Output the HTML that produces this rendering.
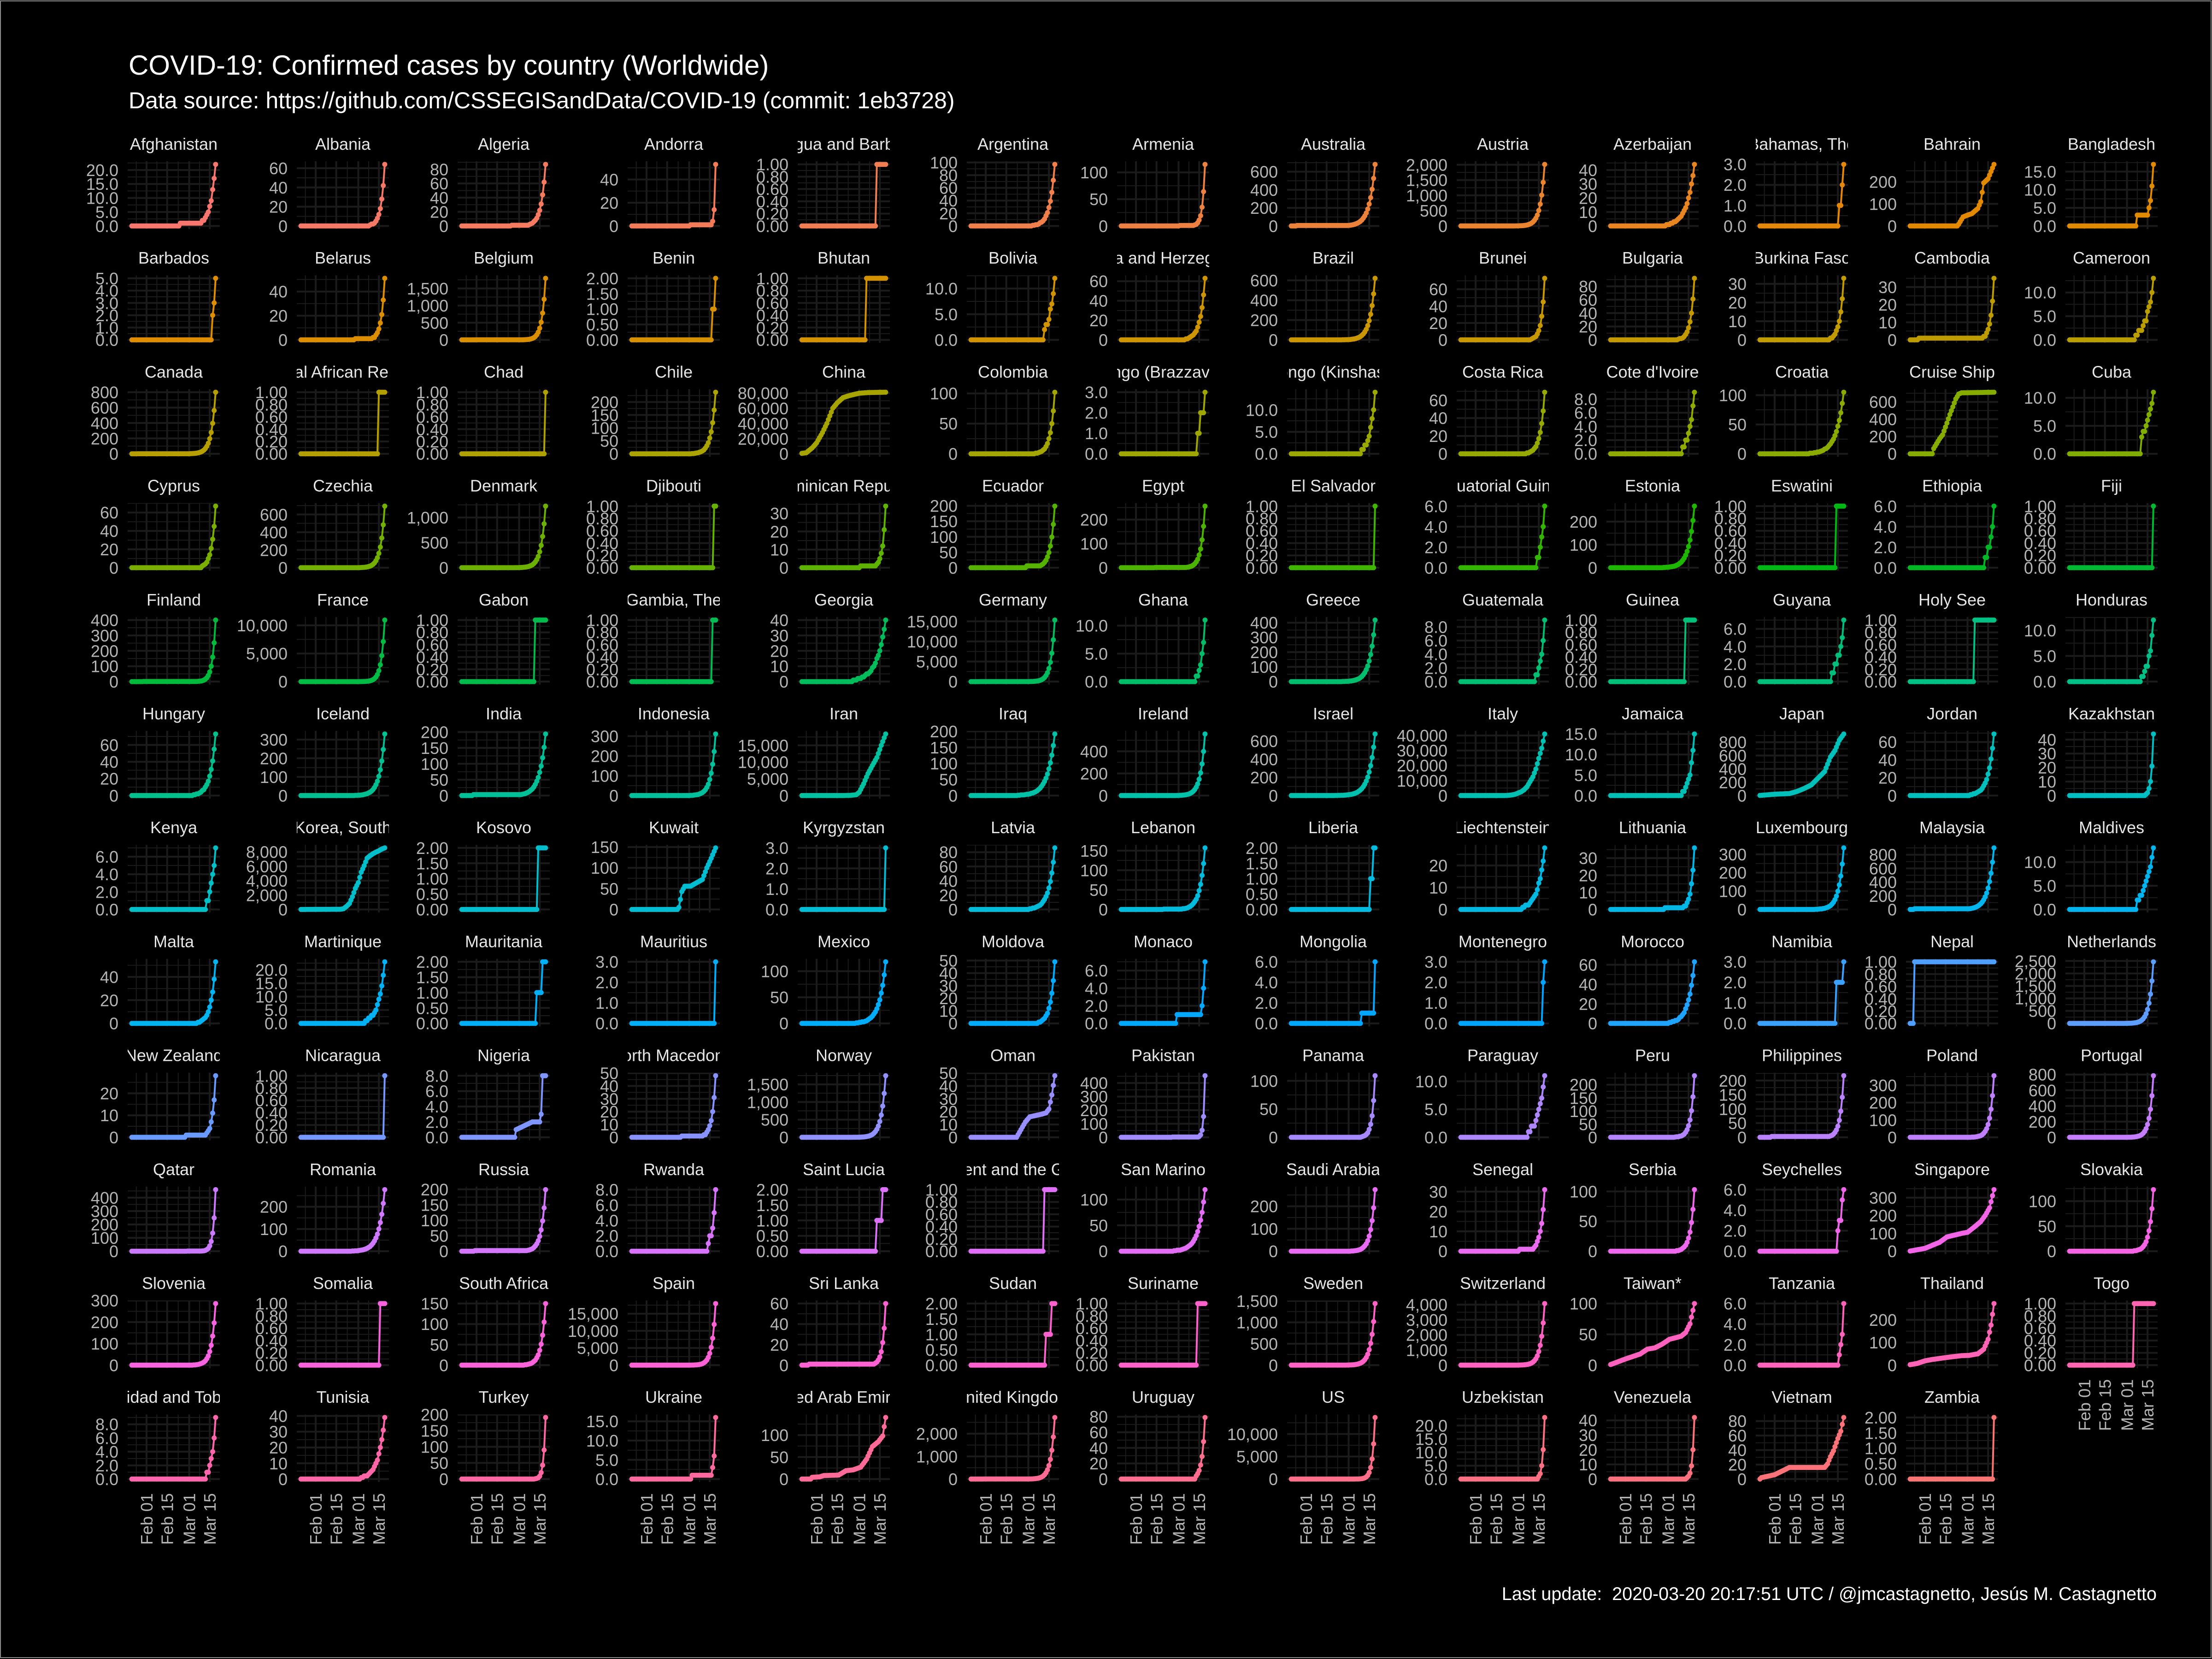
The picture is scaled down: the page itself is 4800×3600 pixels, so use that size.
<!DOCTYPE html>
<html><head><meta charset="utf-8"><style>
html,body{margin:0;padding:0;background:#000;}
svg{display:block;}
text{font-family:"Liberation Sans",Arial,sans-serif;}
</style></head><body>
<svg id="cv" xmlns="http://www.w3.org/2000/svg" width="4800" height="3600" viewBox="0 0 4800 3600">
<rect x="0" y="0" width="4800" height="3600" fill="#000"/>
<rect x="1" y="2" width="4797" height="3595" fill="none" stroke="#8c8c8c" stroke-width="2"/>
<text x="279" y="162" font-size="60" fill="#ffffff">COVID-19: Confirmed cases by country (Worldwide)</text>
<text x="279" y="235" font-size="50" fill="#ffffff">Data source: https://github.com/CSSEGISandData/COVID-19 (commit: 1eb3728)</text>
<text x="4680" y="3472" font-size="39.5" fill="#ffffff" text-anchor="end">Last update:&#160;&#160;2020-03-20 20:17:51 UTC / @jmcastagnetto, Jesús M. Castagnetto</text>
<g id="panels"></g>
</svg>
<script>
const T1="0.00;0.20;0.40;0.60;0.80;1.00",T2="0.00;0.50;1.00;1.50;2.00",T3="0.0;1.0;2.0;3.0",T6="0.0;2.0;4.0;6.0",T8="0.0;2.0;4.0;6.0;8.0",T10="0.0;5.0;10.0";
const D=[
["Afghanistan","0.0;5.0;10.0;15.0;20.0",22,33,1,46],
["Albania","0;20;40;60",64,47],
["Algeria","0;20;40;60;80",87,34,1,44],
["Andorra","0;20;40",53,40,1,54],
["Antigua and Barbuda",T1,1,51],
["Argentina","0;20;40;60;80;100",97,42],
["Armenia","0;50;100",115,40,1,49],
["Australia","0;200;400;600",681,4,5,38],
["Austria","0;500;1,000;1,500;2,000",2013,35],
["Azerbaijan","0;10;20;30;40",44,38],
["Bahamas, The",T3,3,54],
["Bahrain","0;100;200",[[0,0],[32,0],[33,8],[36,41],[39,49],[42,56],[46,79],[48,110],[50,195],[53,214],[57,279]]],
["Bangladesh","0.0;5.0;10.0;15.0",17,46,3,53],
["Barbados","0.0;1.0;2.0;3.0;4.0;5.0",5,55,2],
["Belarus","0;20;40",51,37,1,48],
["Belgium","0;500;1,000;1,500",1795,10,1,39],
["Benin",T2,2,55],
["Bhutan",T1,1,44],
["Bolivia",T10,12,50,2],
["Bosnia and Herzegovina","0;20;40;60",63,44],
["Brazil","0;200;400;600",621,35],
["Brunei","0;20;40;60",73,48],
["Bulgaria","0;20;40;60;80",92,46],
["Burkina Faso","0;10;20;30",33,48],
["Cambodia","0;10;20;30",35,6,1,49],
["Cameroon",T10,13,45],
["Canada","0;200;400;600;800",800,4,1,38],
["Central African Republic",T1,1,53],
["Chad",T1,1,57],
["Chile","0;50;100;150;200",238,41],
["China","0;20,000;40,000;60,000;80,000",[[0,548],[3,1400],[7,7700],[10,14400],[14,28000],[17,40000],[21,60000],[24,67000],[28,74000],[31,76000],[35,78000],[39,79800],[45,80700],[57,81156]]],
["Colombia","0;50;100",102,44],
["Congo (Brazzaville)",T3,3,52,1],
["Congo (Kinshasa)",T10,14,48],
["Costa Rica","0;20;40;60",69,45],
["Cote d'Ivoire",T8,9,49],
["Croatia","0;50;100",105,34],
["Cruise Ship","0;200;400;600",[[0,0],[15,0],[16,61],[20,174],[22,218],[25,355],[27,454],[29,542],[31,634],[33,691],[35,705],[57,712]]],
["Cuba",T10,11,49,3],
["Cyprus","0;20;40;60",67,48,2],
["Czechia","0;200;400;600",694,39],
["Denmark","0;500;1,000",1225,36],
["Djibouti",T1,1,56],
["Dominican Republic","0;10;20;30",34,40,1,50],
["Ecuador","0;50;100;150;200",199,38,6,47],
["Egypt","0;100;200",256,23,1,43],
["El Salvador",T1,1,57],
["Equatorial Guinea",T6,6,52],
["Estonia","0;100;200",267,36],
["Eswatini",T1,1,52],
["Ethiopia",T6,6,51],
["Fiji",T1,1,57],
["Finland","0;100;200;300;400",400,8,1,44],
["France","0;5,000;10,000",10947,2,3,38],
["Gabon",T1,1,50],
["Gambia, The",T1,1,55],
["Georgia","0;10;20;30;40",40,35],
["Germany","0;5,000;10,000;15,000",15320,6,10,38],
["Ghana",T10,11,51],
["Greece","0;100;200;300;400",418,35],
["Guatemala",T8,9,51],
["Guinea",T1,1,51],
["Guyana",T6,7,49],
["Holy See",T1,1,44],
["Honduras",T10,12,49],
["Hungary","0;20;40;60",73,42],
["Iceland","0;100;200;300",330,37],
["India","0;50;100;150;200",194,8,3,40],
["Indonesia","0;100;200;300",311,40],
["Iran","0;5,000;10,000;15,000",[[0,0],[27,0],[28,2],[33,61],[37,245],[39,978],[42,3513],[45,6566],[48,9000],[51,11364],[54,14991],[57,18407]]],
["Iraq","0;50;100;150;200",192,32],
["Ireland","0;200;400",557,38],
["Israel","0;200;400;600",677,30],
["Italy","0;10,000;20,000;30,000;40,000",[[0,0],[8,0],[9,3],[29,3],[31,76],[33,229],[35,453],[37,888],[39,1694],[41,2502],[43,3858],[45,5883],[47,9172],[49,12462],[51,17660],[53,24747],[55,31506],[57,41035]]],
["Jamaica","0.0;5.0;10.0;15.0",15,49],
["Japan","0;200;400;600;800",[[0,2],[10,20],[20,30],[25,60],[30,105],[35,160],[39,250],[44,360],[48,580],[51,675],[54,830],[57,924]]],
["Jordan","0;20;40;60",69,41],
["Kazakhstan","0;10;20;30;40",44,52],
["Kenya",T6,7,51],
["Korea, South","0;2,000;4,000;6,000;8,000",[[0,1],[27,31],[29,104],[31,433],[33,833],[35,1766],[37,2931],[39,3736],[41,5186],[43,6088],[45,7134],[47,7478],[49,7755],[51,7979],[53,8162],[55,8413],[57,8565]]],
["Kosovo",T2,2,52,2],
["Kuwait","0;50;100;150",[[0,0],[31,0],[32,5],[34,43],[36,56],[40,56],[44,64],[48,72],[51,100],[54,123],[57,148]]],
["Kyrgyzstan",T3,3,57,3],
["Latvia","0;20;40;60;80",86,40],
["Lebanon","0;50;100;150",157,29,1,40],
["Liberia",T2,2,54,1],
["Liechtenstein","0;10;20",28,42],
["Lithuania","0;10;20;30",36,37,1,49],
["Luxembourg","0;100;200;300",335,38],
["Malaysia","0;200;400;600;800",900,3,10,40],
["Maldives",T10,13,46,2],
["Malta","0;20;40",53,45],
["Martinique","0.0;5.0;10.0;15.0;20.0",23,44],
["Mauritania",T2,2,51,1],
["Mauritius",T3,3,57,3],
["Mexico","0;50;100",118,37],
["Moldova","0;10;20;30;40;50",49,46],
["Monaco",T6,7,38,1,54],
["Mongolia",T6,6,48,1,56],
["Montenegro",T3,3,56,2],
["Morocco","0;20;40;60",63,40],
["Namibia",T3,3,52,2,55],
["Nepal",T1,1,3],
["Netherlands","0;500;1,000;1,500;2,000;2,500",2467,36],
["New Zealand","0;10;20",28,37,1,50],
["Nicaragua",T1,1,57],
["Nigeria",T8,[[0,0],[36,0],[37,1],[48,2],[50,2],[51,2],[52,2],[53,2],[54,3],[55,8],[57,8]]],
["North Macedonia","0;10;20;30;40;50",48,34,1,48],
["Norway","0;500;1,000;1,500",1746,35],
["Oman","0;10;20;30;40;50",[[0,0],[31,0],[32,2],[34,6],[37,12],[40,16],[48,18],[51,19],[53,22],[55,33],[57,48]]],
["Pakistan","0;100;200;300;400",454,35,2,52],
["Panama","0;50;100",109,48],
["Paraguay",T10,11,46],
["Peru","0;50;100;150;200",234,44],
["Philippines","0;50;100;150;200",217,8,3,47],
["Poland","0;100;200;300",355,42],
["Portugal","0;200;400;600;800",785,40],
["Qatar","0;100;200;300;400",460,38,1,47],
["Romania","0;100;200",277,35],
["Russia","0;50;100;150;200",199,9,2,44],
["Rwanda",T8,8,52],
["Saint Lucia",T2,2,51,1],
["Saint Vincent and the Grenadines",T1,1,50],
["San Marino","0;50;100",119,36],
["Saudi Arabia","0;100;200",274,41],
["Senegal","0;10;20;30",31,40,1,48],
["Serbia","0;50;100",103,45],
["Seychelles",T6,6,53,2],
["Singapore","0;100;200;300",[[0,1],[10,16],[20,50],[25,80],[30,90],[35,100],[39,106],[44,138],[48,166],[51,200],[54,243],[57,345]]],
["Slovakia","0;50;100",123,44],
["Slovenia","0;100;200;300",286,42],
["Somalia",T1,1,54],
["South Africa","0;50;100;150",150,43],
["Spain","0;5,000;10,000;15,000",17963,10,2,35],
["Sri Lanka","0;20;40;60",60,5,1,49],
["Sudan",T2,2,51,1],
["Suriname",T1,1,52],
["Sweden","0;500;1,000;1,500",1439,9,1,36],
["Switzerland","0;1,000;2,000;3,000;4,000",4075,35],
["Taiwan*","0;50;100",[[0,1],[10,10],[20,18],[25,26],[30,28],[35,34],[40,42],[45,45],[48,47],[51,53],[54,67],[57,100]]],
["Tanzania",T6,6,54,1],
["Thailand","0;100;200",[[0,2],[5,8],[10,19],[15,25],[25,34],[35,42],[40,43],[46,50],[50,70],[53,114],[55,177],[57,272]]],
["Togo",T1,1,44],
["Trinidad and Tobago",T8,9,51],
["Tunisia","0;10;20;30;40",39,41],
["Turkey","0;50;100;150;200",191,50],
["Ukraine","0.0;5.0;10.0;15.0",16,41,1,54],
["United Arab Emirates","0;50;100",[[0,0],[6,0],[7,4],[12,5],[15,8],[25,9],[30,19],[35,21],[40,27],[44,45],[48,74],[52,85],[55,98],[57,140]]],
["United Kingdom","0;1,000;2,000",2716,9,2,38],
["Uruguay","0;20;40;60;80",79,51,4],
["US","0;5,000;10,000",13677,0,1,40],
["Uzbekistan","0.0;5.0;10.0;15.0;20.0",23,53],
["Venezuela","0;10;20;30;40",42,52],
["Vietnam","0;20;40;60;80",[[0,0],[1,2],[10,6],[20,16],[44,16],[46,21],[48,31],[50,39],[53,56],[55,66],[57,85]]],
["Zambia",T2,2,57,2]
];
function hcl(h){
  const L=65,C=100,hr=h*Math.PI/180;
  const U=C*Math.cos(hr),V=C*Math.sin(hr);
  const Xn=95.047,Yn=100,Zn=108.883;
  const un=4*Xn/(Xn+15*Yn+3*Zn),vn=9*Yn/(Xn+15*Yn+3*Zn);
  const Y=Yn*Math.pow((L+16)/116,3);
  const u=U/(13*L)+un,v=V/(13*L)+vn;
  const X=9*Y*u/(4*v),Z=-X/3-5*Y+3*Y/v;
  const x=X/100,y=Y/100,z=Z/100;
  let r=3.2404542*x-1.5371385*y-0.4985314*z;
  let g=-0.9692660*x+1.8760108*y+0.0415560*z;
  let b=0.0556434*x-0.2040259*y+1.0572252*z;
  const gm=c=>{c=c<=0.0031308?12.92*c:1.055*Math.pow(c,1/2.4)-0.055;return Math.round(Math.max(0,Math.min(1,c))*255);};
  return "rgb("+gm(r)+","+gm(g)+","+gm(b)+")";
}
function series(sp){
  const out=[];
  if(Array.isArray(sp[2])){
    const k=sp[2];
    for(let d=0;d<58;d++){
      let j=0;while(j<k.length-1&&k[j+1][0]<d)j++;
      let a=k[j],b=k[Math.min(j+1,k.length-1)];
      let v;
      if(d<=a[0])v=a[1];else if(b[0]===a[0])v=b[1];else v=a[1]+(b[1]-a[1])*(d-a[0])/(b[0]-a[0]);
      out.push(v);
    }
    return out;
  }
  const M=sp[2],s=sp[3],v0=sp[4]||1,s2=(sp[5]!==undefined)?sp[5]:s;
  const r=(M>v0&&57>s2)?Math.log(M/v0)/(57-s2):0;
  for(let d=0;d<58;d++){
    let v;
    if(d<s)v=0;else if(d<s2)v=v0;else v=Math.round(v0*Math.exp(r*(d-s2)));
    if(d===57)v=M;
    out.push(v);
  }
  return out;
}
const CX=[377,744,1093,1462,1831,2198,2524,2893,3261,3586,3910,4236,4582];
const W=200,H=147,GRID="#1b1b1b";
const xMaj=[41,85.7,133.5,178.2],xMin=[18.7,63.4,109.6,155.9];
const xLab=["Feb 01","Feb 15","Mar 01","Mar 15"];
let s="<defs>";
for(let i=0;i<D.length;i++){
  const col=i%13,row=Math.floor(i/13),L=CX[col]-W/2,T=350+row*247.2;
  s+=`<clipPath id="p${i}"><rect x="${L}" y="${T}" width="${W}" height="${H}"/></clipPath>`;
  s+=`<clipPath id="t${i}"><rect x="${L}" y="${T-80}" width="${W}" height="80"/></clipPath>`;
}
s+="</defs>";
for(let i=0;i<D.length;i++){
  const sp=D[i],col=i%13,row=Math.floor(i/13),L=CX[col]-W/2,T=350+row*247.2,B=T+H;
  const vals=series(sp);
  const M=Math.max(...vals)||1;
  const yp=v=>B-H*((v+0.05*M)/(1.1*M));
  const xp=d=>L+9.1+d*(181.8/57);
  const color=hcl(15+i*360/155);
  const labs=sp[1].split(";"),tv=labs.map(t=>parseFloat(t.replace(/,/g,"")));
  let g=`<g clip-path="url(#p${i})">`;
  const step=tv.length>1?tv[1]-tv[0]:M;
  for(let k=0;k<tv.length;k++){
    const mv=tv[k]+step/2;
    if(mv<=M*1.05)g+=`<line x1="${L}" x2="${L+W}" y1="${yp(mv)}" y2="${yp(mv)}" stroke="${GRID}" stroke-width="2"/>`;
  }
  xMin.forEach(x=>{g+=`<line x1="${L+x}" x2="${L+x}" y1="${T}" y2="${B}" stroke="${GRID}" stroke-width="2"/>`;});
  tv.forEach(v=>{g+=`<line x1="${L}" x2="${L+W}" y1="${yp(v)}" y2="${yp(v)}" stroke="${GRID}" stroke-width="4"/>`;});
  xMaj.forEach(x=>{g+=`<line x1="${L+x}" x2="${L+x}" y1="${T}" y2="${B}" stroke="${GRID}" stroke-width="4"/>`;});
  let pts=vals.map((v,d)=>xp(d).toFixed(1)+","+yp(v).toFixed(1)).join(" ");
  g+=`<polyline points="${pts}" fill="none" stroke="${color}" stroke-width="4" stroke-linejoin="round"/>`;
  g+=`<g fill="${color}">`;
  vals.forEach((v,d)=>{g+=`<circle cx="${xp(d).toFixed(1)}" cy="${yp(v).toFixed(1)}" r="5.5"/>`;});
  g+="</g></g>";
  s+=g;
  s+=`<text x="${L+W/2}" y="${T-25}" font-size="36" fill="#e6e6e6" text-anchor="middle" clip-path="url(#t${i})">${sp[0].replace("'","&#39;")}</text>`;
  tv.forEach((v,k)=>{s+=`<text x="${L-20}" y="${(yp(v)+13).toFixed(1)}" font-size="36" fill="#b5b5b5" text-anchor="end">${labs[k]}</text>`;});
  if(i>=142){
    xMaj.forEach((x,k)=>{s+=`<text transform="translate(${L+x+13},${B+24}) rotate(-90)" font-size="36" fill="#b5b5b5" text-anchor="end">${xLab[k]}</text>`;});
  }
}
document.getElementById("panels").innerHTML=s;
</script>
</body></html>
